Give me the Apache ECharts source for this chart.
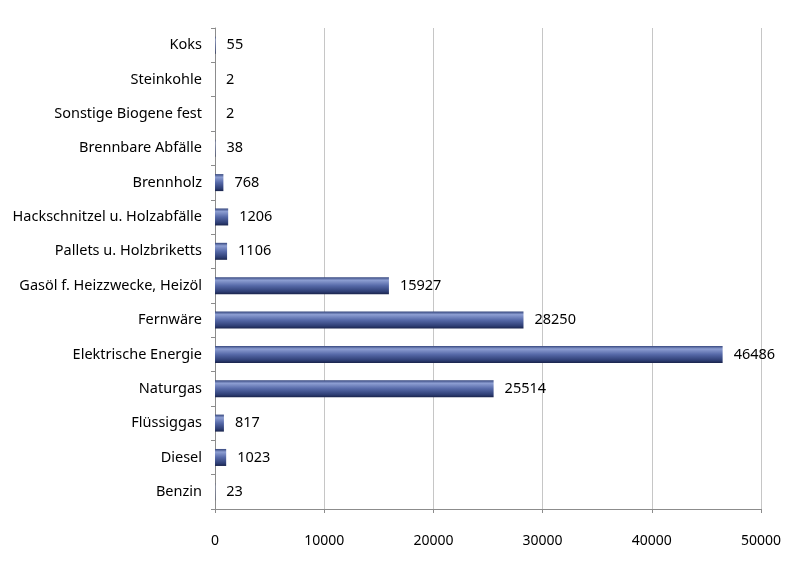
<!DOCTYPE html>
<html>
<head>
<meta charset="utf-8">
<script src="https://cdn.jsdelivr.net/npm/echarts@6/dist/echarts.min.js"></script>
<style>
  html, body { margin: 0; padding: 0; background: #fff; }
  #chart { width: 800px; height: 568px; }
</style>
</head>
<body>
<div id="chart"></div>
<script>
// categories bottom -> top
const categories = ['Benzin', 'Diesel', 'Flüssiggas', 'Naturgas', 'Elektrische Energie', 'Fernwäre',
  'Gasöl f. Heizzwecke, Heizöl', 'Pallets u. Holzbriketts', 'Hackschnitzel u. Holzabfälle',
  'Brennholz', 'Brennbare Abfälle', 'Sonstige Biogene fest', 'Steinkohle', 'Koks'];
const values = [23, 1023, 817, 25514, 46486, 28250, 15927, 1106, 1206, 768, 38, 2, 2, 55];
const xTicks = [0, 10000, 20000, 30000, 40000, 50000];

const chart = echarts.init(document.getElementById('chart'));

const barFill = new echarts.graphic.LinearGradient(0, 0, 0, 1, [
  { offset: 0, color: '#34457c' },
  { offset: 0.18, color: '#8d9ed2' },
  { offset: 0.5, color: '#5669a8' },
  { offset: 0.85, color: '#2e3e74' },
  { offset: 1, color: '#1a244c' }
]);

const option = {
  animation: false,
  textStyle: { fontFamily: 'Noto Sans' },
  grid: { left: 215, right: 39, top: 28, bottom: 59 },
  xAxis: {
    type: 'value',
    min: xTicks[0],
    max: xTicks[xTicks.length - 1],
    interval: 10000,
    axisLine: { show: true, lineStyle: { color: '#8c8c8c' } },
    axisTick: { show: true, length: 4, lineStyle: { color: '#8c8c8c' } },
    axisLabel: { color: '#000', fontSize: 14, margin: 25, formatter: v => String(v) },
    splitLine: { show: true, lineStyle: { color: '#c6c6c6', width: 1 } }
  },
  yAxis: {
    type: 'category',
    data: categories,
    axisLine: { show: true, lineStyle: { color: '#8c8c8c' } },
    axisTick: { show: true, length: 4, lineStyle: { color: '#8c8c8c' } },
    axisLabel: { color: '#000', fontSize: 14.5, margin: 13 }
  },
  series: [{
    type: 'bar',
    data: values,
    barWidth: 17,
    itemStyle: { color: barFill },
    label: {
      show: true,
      position: 'right',
      distance: 11,
      color: '#000',
      fontSize: 14.5
    }
  }]
};

chart.setOption(option);
</script>
</body>
</html>
